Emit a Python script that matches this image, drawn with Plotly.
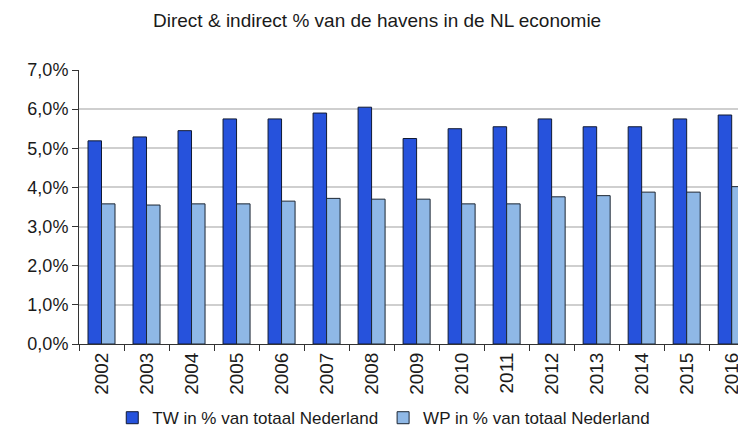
import plotly.graph_objects as go

years = ["2002", "2003", "2004", "2005", "2006", "2007", "2008", "2009",
         "2010", "2011", "2012", "2013", "2014", "2015", "2016"]
tw_pct = [5.19, 5.29, 5.45, 5.75, 5.75, 5.90, 6.05, 5.25,
          5.50, 5.55, 5.75, 5.55, 5.55, 5.75, 5.85]
wp_pct = [3.58, 3.55, 3.58, 3.58, 3.65, 3.72, 3.70, 3.70,
          3.58, 3.58, 3.76, 3.79, 3.88, 3.88, 4.02]

font = "Liberation Sans, Arial, sans-serif"

fig = go.Figure()
fig.add_trace(go.Bar(x=years, y=tw_pct, name="TW in % van totaal Nederland",
                     marker=dict(color="#2652dc", line=dict(color="#111a33", width=1))))
fig.add_trace(go.Bar(x=years, y=wp_pct, name="WP in % van totaal Nederland",
                     marker=dict(color="#8fb8e6", line=dict(color="#1c2633", width=1))))

fig.update_layout(
    width=738, height=428,
    margin=dict(l=79, r=0, t=70, b=84, autoexpand=False),
    paper_bgcolor="white", plot_bgcolor="white",
    separators=",.",
    barmode="group", bargap=0.4, bargroupgap=0,
    font=dict(family=font, size=17, color="#1a1a1a"),
    title=dict(text="Direct & indirect % van de havens in de NL economie",
               x=0.511, xanchor="center", y=0.953, yanchor="middle",
               font=dict(size=19)),
    showlegend=True,
    legend=dict(orientation="h", xref="container", yref="container",
                x=0.52, xanchor="center", y=0.023, yanchor="middle",
                font=dict(size=17), itemwidth=30, traceorder="normal"),
)
fig.update_yaxes(range=[0, 7], dtick=1, tickformat=".1f", ticksuffix="%",
                 showgrid=True, gridcolor="#cfcfcf", gridwidth=2,
                 showline=True, linecolor="#333333", linewidth=1,
                 ticks="outside", ticklen=6, tickcolor="#333333",
                 tickfont=dict(size=18), zeroline=False, automargin=False)
fig.update_xaxes(range=[-0.5, 14.14], tickangle=-90, tickson="boundaries",
                 showline=True, linecolor="#333333", linewidth=1,
                 ticks="outside", ticklen=6, tickcolor="#333333",
                 tickfont=dict(size=19), automargin=False)

# drop the default page margin so the figure fills the window exactly
fig.write_html("out.html", config={"displayModeBar": False},
               post_script="document.body.style.margin='0';"
                           "document.documentElement.style.overflow='hidden';")
